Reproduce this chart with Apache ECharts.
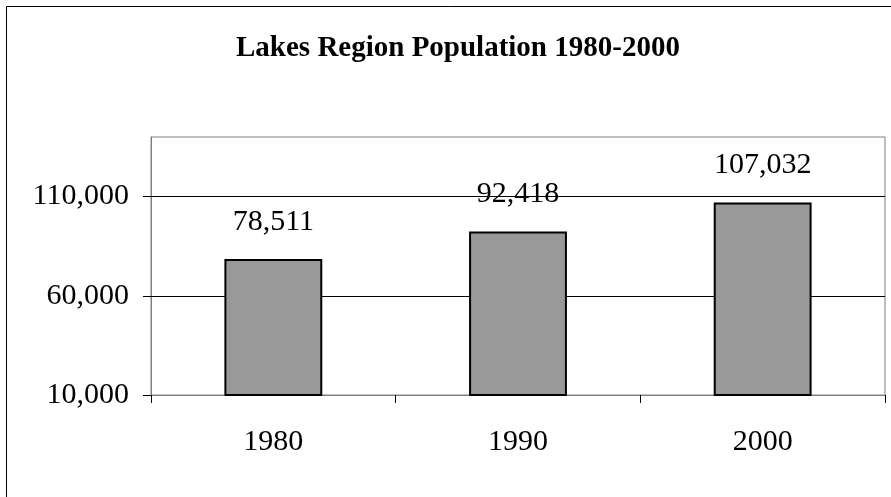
<!DOCTYPE html>
<html><head><meta charset="utf-8">
<script src="https://cdn.jsdelivr.net/npm/echarts@6/dist/echarts.min.js"></script>
<style>html,body{margin:0;padding:0;background:#fff}#c{width:891px;height:497px}</style>
</head><body><div id="c"></div>
<script>
const titleText = 'Lakes Region Population 1980-2000';
const categories = ['1980', '1990', '2000'];
const population = [78511, 92418, 107032];
const yTicks = [10000, 60000, 110000];
const yMin = 10000, yMax = 140000, yStep = 10000;

const FONT = '"Liberation Serif", "Times New Roman", serif';
const chart = echarts.init(document.getElementById('c'));
chart.setOption({
  animation: false,
  backgroundColor: '#fff',
  title: {
    text: titleText, left: 231, top: 29,
    textStyle: {fontFamily: FONT, fontWeight: 'bold', fontSize: 29, color: '#000'}
  },
  graphic: [{type: 'rect', shape: {x: 6.5, y: 6.5, width: 1000, height: 1000}, style: {fill: null, stroke: '#000', lineWidth: 1}, z: 100}],
  grid: {left: 151, top: 137, right: 6, bottom: 102, show: true, borderColor: '#808080', borderWidth: 1, backgroundColor: '#fff'},
  xAxis: {
    type: 'category', data: categories,
    axisLine: {lineStyle: {color: '#808080', width: 1}},
    axisTick: {show: true, length: 8, alignWithLabel: false, lineStyle: {color: '#000'}},
    axisLabel: {fontFamily: FONT, fontSize: 30, color: '#000', margin: 32}
  },
  yAxis: {
    type: 'value', min: yMin, max: yMax, interval: yStep,
    axisLine: {show: true, lineStyle: {color: '#808080'}},
    axisTick: {show: true, length: 8, customValues: yTicks, lineStyle: {color: '#000'}},
    axisLabel: {fontFamily: FONT, fontSize: 30, color: '#000', margin: 22, customValues: yTicks,
      formatter: v => v.toLocaleString('en-US')},
    splitLine: {show: false}
  },
  series: [{
    type: 'bar', data: population, barWidth: '40%',
    itemStyle: {color: '#999999', borderColor: '#000', borderWidth: 2},
    label: {show: true, position: 'top', distance: 22, fontFamily: FONT, fontSize: 30, color: '#000',
      formatter: p => p.value.toLocaleString('en-US')},
    markLine: {
      silent: true, symbol: 'none', label: {show: false}, z: 1,
      lineStyle: {color: '#000', width: 1, type: 'solid'},
      data: yTicks.slice(1).map(v => ({yAxis: v}))
    }
  }]
});
</script></body></html>
